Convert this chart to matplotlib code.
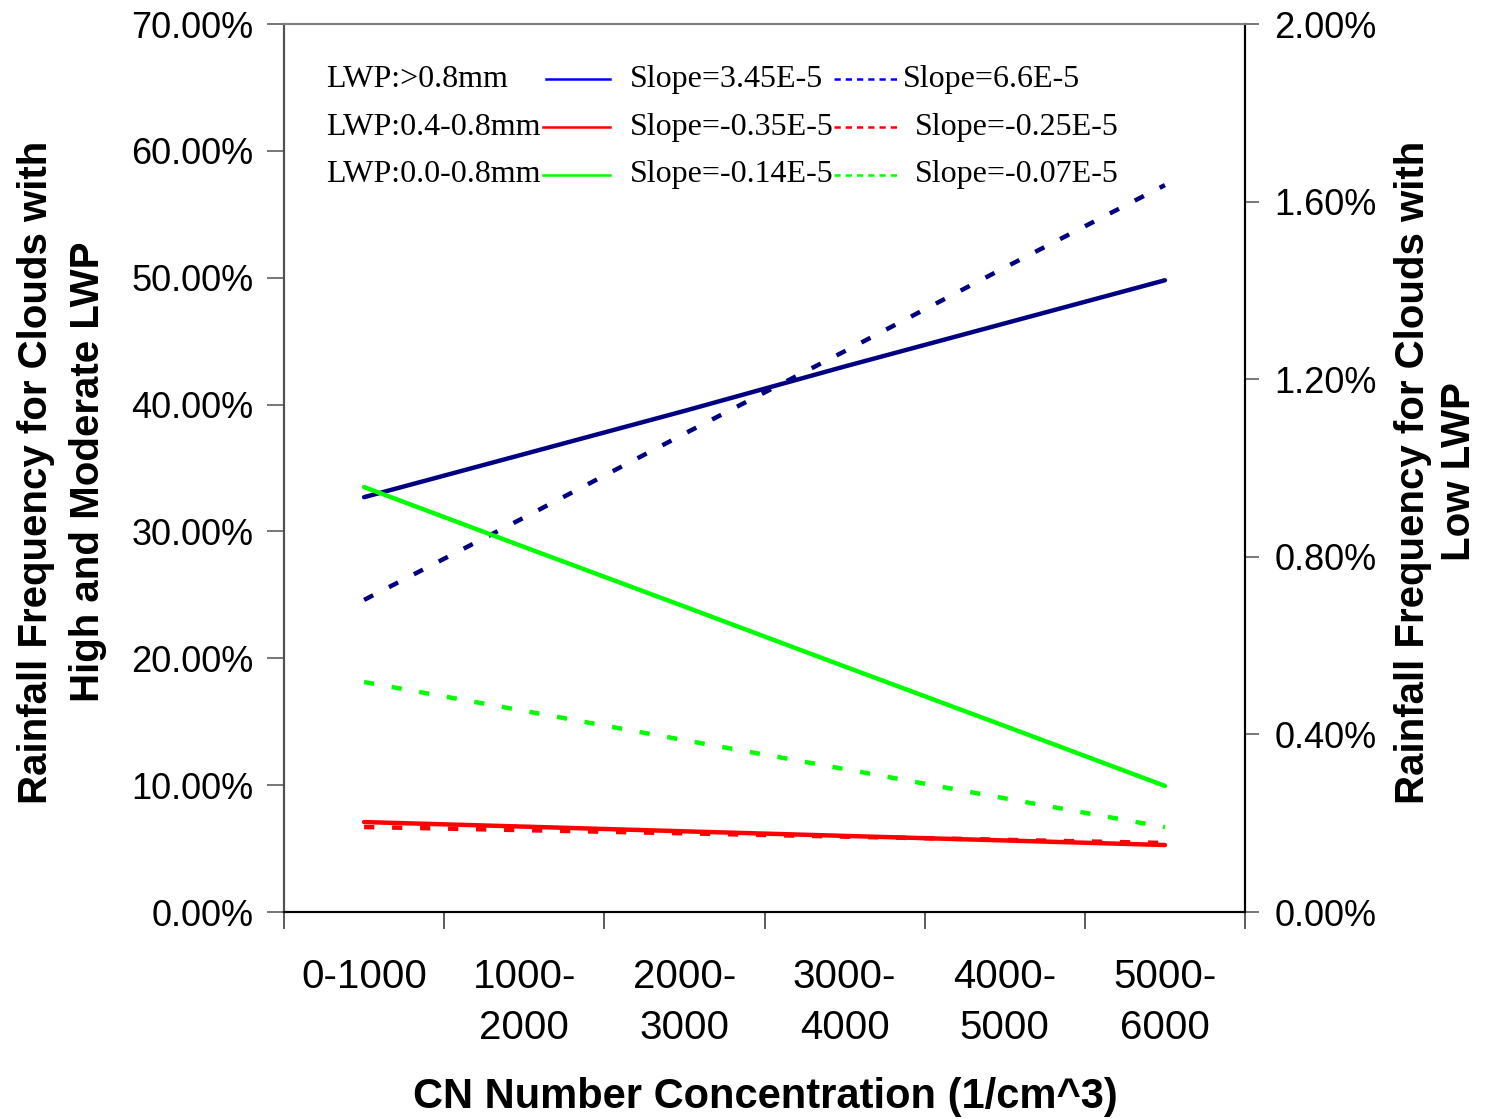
import numpy as np
import matplotlib
matplotlib.use('Agg')
import matplotlib.pyplot as plt
from matplotlib.ticker import PercentFormatter, FixedLocator

# categories of CN number concentration
categories = ['0-1000', '1000-\n2000', '2000-\n3000', '3000-\n4000', '4000-\n5000', '5000-\n6000']

# left axis (%): high and moderate LWP
high_fit = [32.7, 36.1, 39.5, 43.0, 46.4, 49.8]
high_dash = [24.6, 31.1, 37.7, 44.2, 50.8, 57.3]
mod_fit = [7.09, 6.73, 6.36, 6.00, 5.64, 5.28]
mod_dash = [6.70, 6.45, 6.20, 5.94, 5.69, 5.44]

# right axis (%): low LWP
low_fit = [0.957, 0.822, 0.688, 0.553, 0.419, 0.284]
low_dash = [0.518, 0.453, 0.387, 0.322, 0.256, 0.191]

legend_names = ['LWP:>0.8mm', 'LWP:0.4-0.8mm', 'LWP:0.0-0.8mm']
slope_solid = ['Slope=3.45E-5', 'Slope=-0.35E-5', 'Slope=-0.14E-5']
slope_dash = ['Slope=6.6E-5', 'Slope=-0.25E-5', 'Slope=-0.07E-5']
legend_colors = ['#0000FF', '#FF0000', '#00FF00']

sans = ['Liberation Sans', 'DejaVu Sans']
narrow = ['Liberation Sans Narrow', 'Liberation Sans', 'DejaVu Sans']
serif = ['Liberation Serif', 'DejaVu Serif']

fig = plt.figure(figsize=(14.85, 11.19), dpi=100)
ax = fig.add_axes([284 / 1485, 1 - 912 / 1119, 961 / 1485, 888 / 1119])
ax2 = ax.twinx()

x = np.arange(len(categories))
lw = 3.2
dash = (2.3, 4.0)

ax.plot(x, high_fit, color='#000080', lw=lw, solid_capstyle='round')
ax.plot(x, high_dash, color='#000080', lw=lw, dashes=dash)
ax.plot(x, mod_fit, color='#FF0000', lw=lw, solid_capstyle='round')
ax.plot(x, mod_dash, color='#FF0000', lw=lw, dashes=dash)
ax2.plot(x, low_fit, color='#00FF00', lw=lw, solid_capstyle='round')
ax2.plot(x, low_dash, color='#00FF00', lw=lw, dashes=dash)

ax.set_xlim(-0.5, len(categories) - 0.5)
ax.set_ylim(0, 70)
ax2.set_ylim(0, 2.0)
ax.set_yticks(np.arange(0, 71, 10))
ax2.set_yticks(np.arange(0, 2.01, 0.4))
ax.yaxis.set_major_formatter(PercentFormatter(100, decimals=2))
ax2.yaxis.set_major_formatter(PercentFormatter(100, decimals=2))

# category boundaries as ticks, labels at centres
ax.xaxis.set_major_locator(FixedLocator(np.arange(-0.5, len(categories), 1.0)))
ax.set_xticklabels([], minor=False)
ax.set_xticks(x, categories, minor=True)
ax.tick_params(axis='x', which='major', direction='out', length=12, width=1.2, color='#404040')
ax.tick_params(axis='x', which='minor', length=0, pad=33)
for t in ax.get_xticklabels(minor=True):
    t.set_family(sans)
    t.set_fontsize(29)
    t.set_linespacing(1.45)

ax.tick_params(axis='y', direction='out', length=12, width=1.2, color='#606060', pad=10,
               labelsize=26, labelfontfamily='Liberation Sans')
ax2.tick_params(axis='y', direction='out', length=10, width=1.2, color='#606060', pad=11,
                labelsize=26, labelfontfamily='Liberation Sans')

for a in (ax, ax2):
    a.spines['top'].set_color('#808080')
    a.spines['left'].set_color('#505050')
    a.spines['right'].set_color('#000000')
    a.spines['bottom'].set_color('#000000')
    for s in a.spines.values():
        s.set_linewidth(1.5)

# legend drawn by hand to keep its three-column layout
row_y = [0.9380, 0.8840, 0.8300]
solid_x0 = [0.2726, 0.2695, 0.2695]
slope2_x = [0.6441, 0.6566, 0.6566]
for i in range(3):
    ax.text(0.0437, row_y[i], legend_names[i], transform=ax.transAxes,
            family=serif, fontsize=23, va='center', ha='left')
    ax.plot([solid_x0[i], 0.3392], [row_y[i], row_y[i]], transform=ax.transAxes,
            color=legend_colors[i], lw=1.8)
    ax.text(0.3600, row_y[i], slope_solid[i], transform=ax.transAxes,
            family=serif, fontsize=23, va='center', ha='left')
    ax.plot([0.5723, 0.6379], [row_y[i], row_y[i]], transform=ax.transAxes,
            color=legend_colors[i], lw=1.8, dashes=(2.5, 2.0))
    ax.text(slope2_x[i], row_y[i], slope_dash[i], transform=ax.transAxes,
            family=serif, fontsize=23, va='center', ha='left')

# axis titles
fig.text(765 / 1485, 1 - 1097 / 1119, 'CN Number Concentration (1/cm^3)',
         family=narrow, fontsize=30, fontweight='bold', ha='center', va='center')
fig.text(62 / 1485, 1 - 472 / 1119, 'Rainfall Frequency for Clouds with\nHigh and Moderate LWP',
         family=narrow, fontsize=29, fontweight='bold', ha='center', va='center',
         rotation=90, linespacing=1.45)
fig.text(1436 / 1485, 1 - 472 / 1119, 'Rainfall Frequency for Clouds with\nLow LWP',
         family=narrow, fontsize=29, fontweight='bold', ha='center', va='center',
         rotation=90, linespacing=1.25)

fig.savefig('out.png', dpi=100, facecolor='white')
